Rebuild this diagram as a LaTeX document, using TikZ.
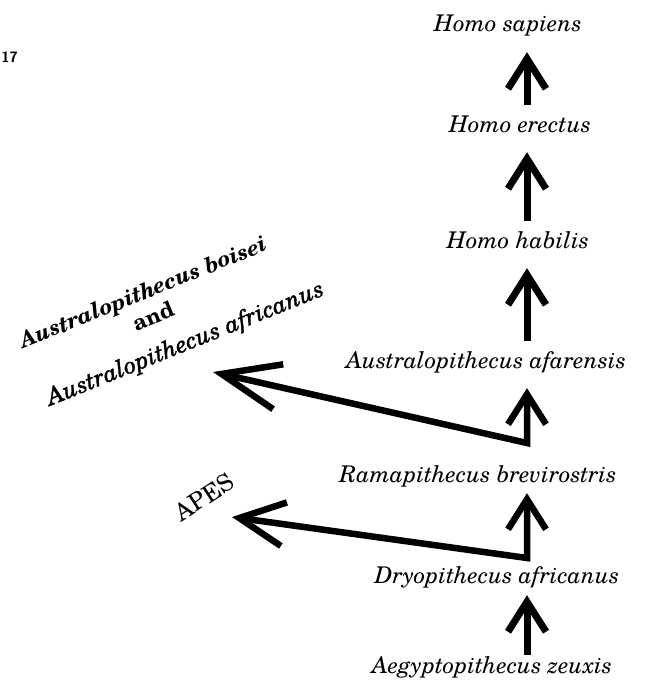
\documentclass[tikz,border=0pt]{standalone}
\usepackage{fontspec}
\setmainfont{texgyreschola}[Extension=.otf, UprightFont=*-regular, BoldFont=*-bold, ItalicFont=*-italic, BoldItalicFont=*-bolditalic]
\newfontfamily\mediumink{texgyreschola-italic.otf}[FakeBold=1.4]
\usetikzlibrary{arrows.meta}
\begin{document}
\begin{tikzpicture}[
    x=1pt, y=-1pt,
    every node/.style={inner sep=0pt, font=\fontsize{23}{31}\selectfont\itshape},
    taxon/.style={anchor=base, text height=17pt, text depth=6pt},
    sidelabel/.style={rotate=22, text height=15pt, text depth=4pt},
    evo/.style={line width=7pt, shorten <=10pt, shorten >=14pt, -{Straight Barb[length=30pt, width=38pt]}},
    branch/.style={line width=6.5pt, shorten >=14pt}
]
    \useasboundingbox (0,0) rectangle (660,682);
    \node[anchor=east, font=\sffamily\bfseries\fontsize{15}{17}\selectfont] (page) at (18,57) {17};

    \node[taxon] (sapiens) at (508,32) {Homo sapiens};
    \node[taxon] (erectus) at (520,132) {Homo erectus};
    \node[taxon] (habilis) at (518,248) {Homo habilis};
    \node[taxon] (afarensis) at (486,368) {Australopithecus afarensis};
    \node[taxon] (ramapithecus) at (478,482) {Ramapithecus brevirostris};
    \node[taxon] (dryopithecus) at (497,583) {Dryopithecus africanus};
    \node[taxon] (aegyptopithecus) at (492,673) {Aegyptopithecus zeuxis};

    \node[sidelabel, font=\fontsize{22}{26}\selectfont\bfseries\itshape] (boisei) at (144,294) {Australopithecus boisei};
    \node[sidelabel, font=\fontsize{22}{26}\selectfont\bfseries] (and) at (154,318) {and};
    \node[sidelabel, font=\fontsize{24}{26}\selectfont\mediumink] (africanus) at (186,345) {Australopithecus africanus};
    \node[rotate=33, font=\fontsize{24}{26}\selectfont] (apes) at (204,497) {APES};

    \coordinate (axis) at (527,0);
    \coordinate (fork1) at (527,443);
    \coordinate (fork2) at (527,558);
    \coordinate (boiseitip) at (213,372);
    \coordinate (apestip) at (232,517);

    \draw[evo] (erectus.north -| axis) -- (sapiens.south -| axis);
    \draw[evo] (habilis.north -| axis) -- (erectus.south -| axis);
    \draw[evo] (afarensis.north -| axis) -- (habilis.south -| axis);
    \draw[branch, {Straight Barb[length=58pt, width=46pt]}-{Straight Barb[length=30pt, width=38pt]}]
        (boiseitip) -- (fork1) -- (afarensis.south -| axis);
    \draw[branch, shorten >=5pt, {Straight Barb[length=45pt, width=44pt]}-{Straight Barb[length=30pt, width=38pt]}]
        (apestip) -- (fork2) -- (ramapithecus.south -| axis);
    \draw[evo, shorten <=1pt, shorten >=6pt] (aegyptopithecus.north -| axis) -- (dryopithecus.south -| axis);
\end{tikzpicture}
\end{document}
